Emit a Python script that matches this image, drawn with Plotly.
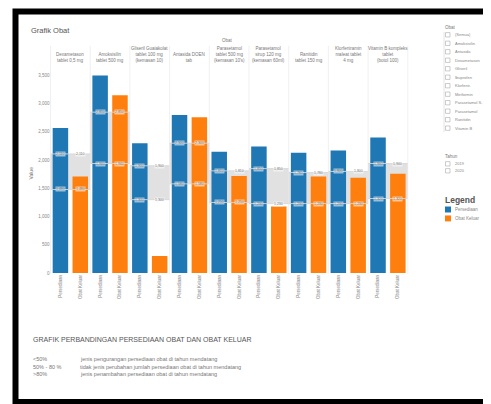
import plotly.graph_objects as go
from plotly.subplots import make_subplots

# ---------------- data ----------------
obat = [
    "Dexametason<br>tablet 0,5 mg",
    "Amoksisilin<br>tablet 500 mg",
    "Gliseril Guaiakolat<br>tablet 100 mg<br>(kemasan 10)",
    "Antasida DOEN<br>tab",
    "Parasetamol<br>tablet 500 mg<br>(kemasan 10's)",
    "Parasetamol<br>sirup 120 mg<br>(kemasan 60ml)",
    "Ranitidin<br>tablet 150 mg",
    "Klorfeniramin<br>maleat tablet<br>4 mg",
    "Vitamin B kompleks<br>tablet<br>(botol 100)",
]
series_names = ["Persediaan", "Obat Keluar"]
persediaan = [2570, 3500, 2300, 2800, 2150, 2240, 2130, 2170, 2400]
obat_keluar = [1710, 3150, 300, 2760, 1720, 1180, 1710, 1690, 1760]
ref_upper = [2110, 2850, 1900, 2300, 1810, 1850, 1780, 1800, 1940]
ref_lower = [1480, 1940, 1300, 1580, 1250, 1230, 1230, 1230, 1320]
y_ticks = [0, 500, 1000, 1500, 2000, 2500, 3000, 3500]

filter_items = ["(Semua)", "Amoksisilin", "Antasida", "Dexametason", "Gliseril", "Ibuprofen",
                "Klorfenir.", "Metformin", "Parasetamol S.", "Parasetamol",
                "Ranitidin", "Vitamin B"]
tahun_items = ["2019", "2020"]
keterangan = [
    ("<50%", "jenis pengurangan persediaan obat di tahun mendatang"),
    ("50% - 80 %", "tidak jenis perubahan jumlah persediaan obat di tahun mendatang"),
    (">80%", "jenis penambahan persediaan obat di tahun mendatang"),
]

BLUE = "#1f77b4"
ORANGE = "#ff7f0e"
W, H = 491, 404


def px(x):
    return x / W


def py(y):
    return 1 - y / H


def label(x, y, text, size, color="#777", xanchor="left", yanchor="middle", **kw):
    fig.add_annotation(xref="paper", yref="paper", x=px(x), y=py(y), text=text, showarrow=False,
                       xanchor=xanchor, yanchor=yanchor,
                       font=dict(size=size, color=color, family="Arial"), **kw)


n = len(obat)
fig = make_subplots(rows=1, cols=n, shared_yaxes=True, horizontal_spacing=0)

pane_left, pane_w = 42.5, 39.7
for i in range(n):
    fig.add_trace(go.Bar(x=series_names, y=[persediaan[i], obat_keluar[i]],
                         marker=dict(color=[BLUE, ORANGE], line_width=0),
                         showlegend=False, hoverinfo="y"), row=1, col=i + 1)
    sfx = "" if i == 0 else str(i + 1)
    x0 = pane_left + i * pane_w
    fig.update_layout(**{f"xaxis{sfx}": dict(
        domain=[px(x0), px(x0 + pane_w)], tickangle=-90,
        tickfont=dict(size=4.5, color="#888", family="Arial"),
        showgrid=False, zeroline=False, showline=False, ticks="")})
    fig.update_layout(**{f"yaxis{sfx}": dict(
        domain=[py(267), py(66)], range=[0, 3535], showgrid=False, zeroline=False,
        tickvals=y_ticks, ticktext=[f"{v:,}" for v in y_ticks],
        tickfont=dict(size=4.5, color="#888", family="Arial"))})
    xd = f"x{sfx} domain"
    yr = f"y{sfx}"
    # reference band
    fig.add_shape(type="rect", xref=xd, yref=yr, x0=0, x1=1, y0=ref_lower[i], y1=ref_upper[i],
                  fillcolor="rgba(200,200,200,0.55)", line_width=0, layer="below")
    for v in (ref_upper[i], ref_lower[i]):
        fig.add_shape(type="line", xref=xd, yref=yr, x0=0, x1=1, y0=v, y1=v,
                      line=dict(color="rgba(215,215,215,0.9)", width=1), layer="above")
        for s in series_names:
            fig.add_annotation(xref=f"x{sfx}", yref=yr, x=s, y=v, text=f"{v:,}",
                               showarrow=False, yanchor="middle", xanchor="center",
                               font=dict(size=3.5, color="#777"),
                               bgcolor="rgba(255,255,255,0.55)", borderpad=0)
    # header
    fig.add_annotation(xref=xd, yref="paper", x=0.5, y=py(57), text=obat[i], showarrow=False,
                       yanchor="bottom", xanchor="center", align="center",
                       font=dict(size=4.5, color="#777", family="Arial"))
    # separators
    fig.add_shape(type="line", xref="paper", yref="paper", x0=px(x0 + pane_w), x1=px(x0 + pane_w),
                  y0=py(38), y1=py(268), line=dict(color="#e6e6e6", width=0.6))

fig.add_shape(type="line", xref="paper", yref="paper", x0=px(pane_left), x1=px(pane_left),
              y0=py(38), y1=py(268), line=dict(color="#e6e6e6", width=0.6))
fig.update_yaxes(title=dict(text="Value", font=dict(size=5, color="#777"), standoff=4), row=1, col=1)

# titles
label(21, 23, "Grafik Obat", 7.5, color="#555")
label(219, 33, "Obat", 4.5, xanchor="center")

# filter panel
label(435, 20, "Obat", 4.5)
fig.add_shape(type="line", xref="paper", yref="paper", x0=px(436), x1=px(436), y0=py(24), y1=py(125),
              line=dict(color="#ddd", width=0.8))
for k, name in enumerate(filter_items):
    yy = 27 + k * 8.55
    fig.add_shape(type="rect", xref="paper", yref="paper", x0=px(437.5), x1=px(442),
                  y0=py(yy - 2.2), y1=py(yy + 2.2), line=dict(color="#aaa", width=0.6),
                  fillcolor="white")
    label(445, yy, name, 4, color="#888")

label(435, 150, "Tahun", 4.5)
for k, name in enumerate(tahun_items):
    yy = 157 + k * 7
    fig.add_shape(type="rect", xref="paper", yref="paper", x0=px(437.5), x1=px(442),
                  y0=py(yy - 2.2), y1=py(yy + 2.2), line=dict(color="#aaa", width=0.6),
                  fillcolor="white")
    label(445, yy, name, 4, color="#888")

# legend
label(435, 193, "<b>Legend</b>", 8.5, color="#555")
for k, (name, col) in enumerate(zip(series_names, [BLUE, ORANGE])):
    yy = 203 + k * 9
    fig.add_shape(type="rect", xref="paper", yref="paper", x0=px(437), x1=px(443),
                  y0=py(yy - 3), y1=py(yy + 3), line_width=0, fillcolor=col)
    label(445, yy, name, 4.5, color="#888")

# bottom text
label(23, 334, "GRAFIK PERBANDINGAN PERSEDIAAN OBAT DAN OBAT KELUAR", 7, color="#555")
for k, (a, b) in enumerate(keterangan):
    yy = 354 + k * 7.5
    label(23, yy, a, 5.5)
    label(70, yy, b, 5.5)

# frame
fig.add_shape(type="rect", xref="paper", yref="paper", x0=px(7.5), x1=px(500), y0=py(397), y1=py(3.5),
              line=dict(color="black", width=6))

fig.update_layout(width=W, height=H, margin=dict(l=0, r=0, t=0, b=0),
                  plot_bgcolor="white", paper_bgcolor="white", bargap=0.22,
                  font=dict(family="Arial"))

fig.write_html("out.html")
